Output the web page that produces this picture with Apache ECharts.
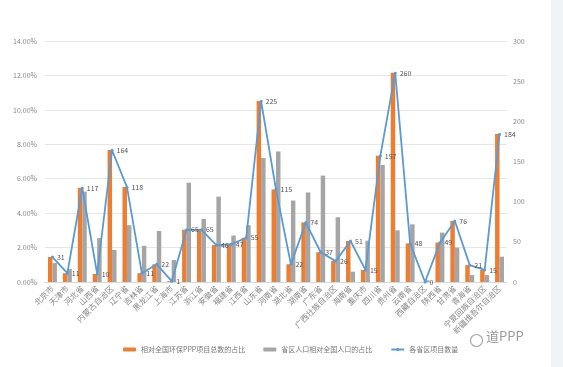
<!DOCTYPE html>
<html><head><meta charset="utf-8">
<script src="https://cdn.jsdelivr.net/npm/echarts@6/dist/echarts.min.js"></script>
<style>html,body{margin:0;padding:0;background:#fff}#c{width:563px;height:367px}</style>
</head><body><div id="c"></div>
<script>
var categories = ['北京市','天津市','河北省','山西省','内蒙古自治区','辽宁省','吉林省','黑龙江省','上海市','江苏省','浙江省','安徽省','福建省','江西省','山东省','河南省','湖北省','湖南省','广东省','广西壮族自治区','海南省','重庆市','四川省','贵州省','云南省','西藏自治区','陕西省','甘肃省','青海省','宁夏回族自治区','新疆维吾尔自治区'];
var projectShare = [1.45,0.51,5.47,0.47,7.67,5.52,0.51,1.03,0.05,3.04,3.04,2.15,2.20,2.57,10.52,5.38,1.03,3.46,1.73,1.22,2.38,0.70,7.34,12.16,2.24,0,2.29,3.55,0.98,0.70,8.60];
var popShare = [1.1,0.75,5.25,2.55,1.86,3.3,2.1,2.96,1.28,5.77,3.66,4.96,2.7,3.3,7.2,7.58,4.73,5.2,6.18,3.76,0.6,2.4,6.8,3.0,3.35,0.1,2.87,2.0,0.4,0.4,1.47];
var projectCount = [31,11,117,10,164,118,11,22,1,65,65,46,47,55,225,115,22,74,37,26,51,15,157,260,48,0,49,76,21,15,184];
var leftTicks = [0,2,4,6,8,10,12,14];
var rightTicks = [0,50,100,150,200,250,300];
var names = ['相对全国环保PPP项目总数的占比','省区人口相对全国人口的占比','各省区项目数量'];

var ch = echarts.init(document.getElementById('c'));
var font = '"Noto Sans CJK SC", "Noto Sans", sans-serif';
ch.setOption({
  animation:false,
  textStyle:{fontFamily:font},
  grid:{left:45,right:56,top:41,bottom:85},
  legend:{bottom:9,left:118,itemWidth:13,itemHeight:4,itemGap:18,
    textStyle:{fontSize:7,color:'#777',fontFamily:font},data:names},
  xAxis:{type:'category',data:categories,
    axisLine:{lineStyle:{color:'#d9d9d9'}},axisTick:{show:false},
    axisLabel:{interval:0,rotate:45,fontSize:8,color:'#888',margin:5,fontFamily:font}},
  yAxis:[
    {type:'value',min:leftTicks[0],max:leftTicks[leftTicks.length-1],interval:2,
     axisLine:{show:false},axisTick:{show:false},
     splitLine:{lineStyle:{color:'#e6e6e6'}},
     axisLabel:{fontSize:7,color:'#888',formatter:function(v){return v.toFixed(2)+'%';}}},
    {type:'value',min:rightTicks[0],max:rightTicks[rightTicks.length-1],interval:50,
     axisLine:{show:false},axisTick:{show:false},splitLine:{show:false},
     axisLabel:{fontSize:7,color:'#888',margin:6}}
  ],
  series:[
    {name:names[0],type:'bar',data:projectShare,barWidth:'30%',barGap:'0%',itemStyle:{color:'#ED7D31'}},
    {name:names[1],type:'bar',data:popShare,barWidth:'30%',barGap:'0%',itemStyle:{color:'#A5A5A5'}},
    {name:names[2],type:'line',yAxisIndex:1,data:projectCount,symbol:'circle',symbolSize:3,
     lineStyle:{color:'#5B9BD5',width:1.8},itemStyle:{color:'#5B9BD5'},
     label:{show:true,position:'right',fontSize:7,color:'#555',distance:3}}
  ],
  graphic:[
    {type:'rect',right:0,top:0,shape:{width:12,height:367},style:{fill:'#f0f4f7'}},
    {type:'circle',left:468,top:332,shape:{r:6},style:{fill:'none',stroke:'#aaa',lineWidth:1.2}},
    {type:'text',left:486,top:330,style:{text:'道PPP',fontSize:13,fill:'#999',fontFamily:font}}
  ]
});
</script></body></html>
